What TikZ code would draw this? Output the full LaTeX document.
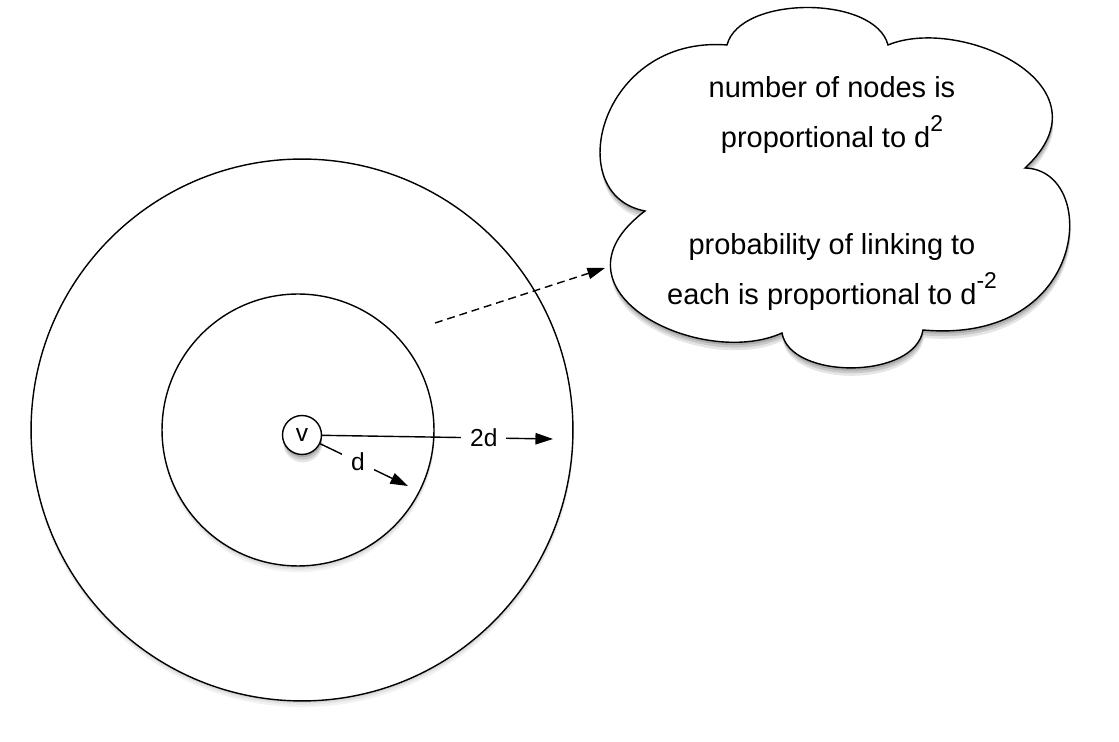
\documentclass[tikz,border=0pt]{standalone}
\usepackage{fontspec}
\setmainfont{Liberation Sans}
\usetikzlibrary{arrows.meta,shadows}

\newcommand\pw[1]{\raisebox{0.55em}{\fontsize{13pt}{13pt}\selectfont #1}}

\begin{document}
\begin{tikzpicture}[
			x=0.02cm, y=0.02cm,
			soft/.style={
				general shadow={fill=black, opacity=0.05, shadow xshift=0.3pt, shadow yshift=-3.5pt},
				general shadow={fill=black, opacity=0.05, shadow xshift=0.3pt, shadow yshift=-2.2pt},
				general shadow={fill=black, opacity=0.06, shadow xshift=0.2pt, shadow yshift=-1.2pt}},
			heavy/.style={
				general shadow={fill=black, opacity=0.1, shadow xshift=0.5pt, shadow yshift=-4.5pt},
				general shadow={fill=black, opacity=0.12, shadow xshift=0.4pt, shadow yshift=-3pt},
				general shadow={fill=black, opacity=0.14, shadow xshift=0.3pt, shadow yshift=-1.6pt}},
			ring/.style={circle, draw=black, fill=white, line width=0.8pt, inner sep=0pt, soft},
			vnode/.style={circle, draw=black, fill=white, line width=0.8pt, inner sep=0pt, heavy, minimum size=0.78cm, font=\fontsize{14}{14}\selectfont},
			distlabel/.style={fill=white, inner xsep=5pt, inner ysep=1pt, font=\fontsize{14}{14}\selectfont},
			cloudtext/.style={align=center, font=\fontsize{16.5}{28.45}\selectfont},
			tip/.style={-{Triangle[length=10pt,width=6.5pt]}, line width=0.8pt},
			]
			\useasboundingbox (0,0) rectangle (1119,-742);
			%Rings
			\node[ring, minimum size=10.84cm] (outer) at (302,-430) {};
			\node[ring, minimum size=5.44cm]  (inner) at (298,-430) {};
			\node[vnode] (v) at (302,-435) {v};

			%Cloud
			\draw[line width=0.8pt, fill=white, heavy]
				(645,-211) .. controls (560,-195) and (600,-35) .. (727,-45)
				.. controls (740,5) and (875,5) .. (888,-45)
				.. controls (960,-15) and (1115,-85) .. (1025,-168)
				.. controls (1100,-170) and (1090,-345) .. (923,-330)
				.. controls (915,-380) and (790,-380) .. (782,-333)
				.. controls (700,-370) and (540,-290) .. (645,-211) -- cycle;
			\node[cloudtext] (count) at (832,-115) {number of nodes is\\ proportional to d\pw{2}};
			\node[cloudtext] (prob)  at (832,-272) {probability of linking to\\ each is proportional to d\pw{-2}};

			%Arrows
			\coordinate (far)  at (553,-439);
			\coordinate (near) at (408,-486);
			\coordinate (from) at (435,-323);
			\coordinate (into) at (605,-268);
			\draw[tip] (v) -- node[distlabel, pos=0.70] {2d} (far);
			\draw[tip] (v) -- node[distlabel, pos=0.43] {d} (near);
			\draw[tip, dash pattern=on 4.5pt off 2.8pt] (from) -- (into);
		\end{tikzpicture}
\end{document}
